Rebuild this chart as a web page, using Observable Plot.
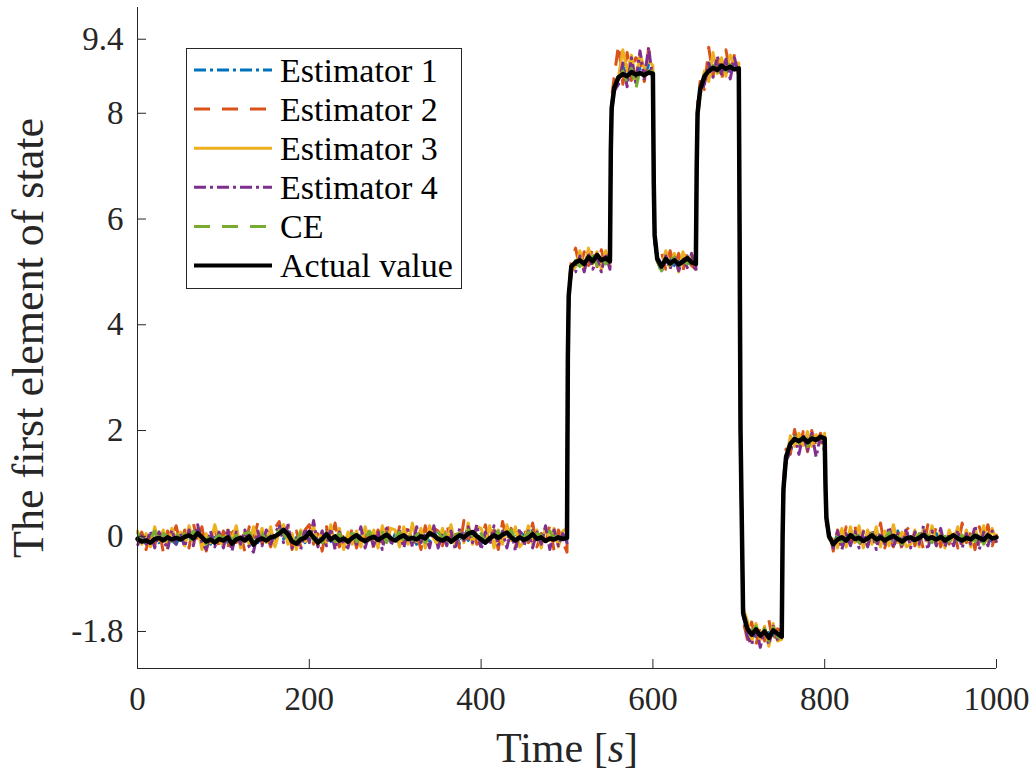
<!DOCTYPE html>
<html><head><meta charset="utf-8">
<script src="https://cdn.jsdelivr.net/npm/d3@7"></script>
<script src="https://cdn.jsdelivr.net/npm/@observablehq/plot@0.6"></script>
<style>
body{margin:0;background:#fff;}
#wrap{position:relative;width:1036px;height:774px;}
#legend{position:absolute;left:186px;top:48px;}
</style></head><body><div id="wrap"></div>
<script>
// regular sampling: one value every 5 s, from 0 s to 1000 s (201 samples per series)
const sampleStep = 5;
// extra samples taken just after each switching instant
const extraTimes = [501, 502, 551, 552, 601, 602, 651, 652, 701, 702, 751, 752, 801, 802];
const xTicks = [0, 200, 400, 600, 800, 1000];
const yTicks = [-1.8, 0, 2, 4, 6, 8, 9.4];
const xLabel = "Time [s]";
const yLabel = "The first element of state";
const seriesNames = ["Estimator 1", "Estimator 2", "Estimator 3", "Estimator 4", "CE", "Actual value"];
const seriesColors = ["#0072BD", "#D95319", "#EDB120", "#7E2F8E", "#77AC30", "#000000"];
const seriesDash = ["12,4,3,4", "16,12", null, "12,4,3,4", "16,12", null];
const seriesWidth = [3, 3, 3, 3, 3, 4.5];

const actual = [
-0.05,-0.10,-0.08,-0.12,-0.05,-0.03,-0.08,-0.02,-0.06,-0.03,
-0.06,-0.01,0.02,-0.04,0.06,-0.02,-0.10,-0.06,-0.12,-0.05,
-0.08,-0.02,-0.14,-0.06,-0.03,-0.08,0.00,-0.16,-0.07,-0.04,
-0.08,-0.02,0.00,0.05,0.12,0.04,-0.10,-0.14,-0.06,-0.03,
0.08,-0.02,-0.12,-0.05,0.04,-0.06,0.00,-0.08,-0.04,-0.10,
-0.03,0.02,-0.05,-0.09,-0.04,-0.01,-0.07,-0.02,0.03,-0.04,
-0.08,-0.02,0.02,-0.05,-0.03,-0.06,0.00,-0.04,0.06,0.02,
-0.05,-0.08,-0.03,-0.10,-0.04,0.02,-0.02,0.05,0.08,0.00,
-0.06,-0.12,-0.04,0.02,-0.03,0.03,0.07,-0.02,-0.08,-0.02,
-0.07,-0.03,0.04,-0.05,-0.02,-0.09,-0.04,-0.06,-0.02,-0.05,
-0.03,5.10,5.18,5.22,5.15,5.28,5.20,5.32,5.22,5.26,
5.20,8.48,8.68,8.74,8.70,8.78,8.73,8.76,8.72,8.77,
8.75,5.25,5.10,5.24,5.16,5.22,5.14,5.20,5.26,5.18,
5.15,8.45,8.70,8.80,8.86,8.82,8.90,8.84,8.88,8.83,
8.85,-1.45,-1.75,-1.86,-1.76,-1.88,-1.80,-1.92,-1.78,-1.84,
-1.90,1.50,1.75,1.84,1.80,1.86,1.78,1.85,1.82,1.88,
1.85,0.00,-0.15,-0.06,-0.02,-0.08,0.02,-0.05,-0.03,-0.09,
-0.04,0.02,-0.06,-0.02,-0.08,-0.03,0.01,-0.05,-0.10,-0.04,
-0.02,-0.07,-0.03,0.03,-0.05,-0.02,-0.06,-0.01,-0.08,-0.03,
0.02,-0.04,-0.08,-0.03,-0.06,0.01,-0.03,-0.07,0.02,-0.04,
-0.02];
const actualExtra = [3.40, 4.55, 7.30, 8.10, 6.70, 5.70, 7.00, 8.00, 5.50, 2.00, 0.00, 0.90, 0.90, 0.35];

const est1 = [
-0.08,0.05,-0.15,0.02,0.08,-0.12,-0.02,0.10,-0.08,-0.15,
0.02,-0.10,0.08,-0.05,0.12,-0.08,-0.02,-0.15,0.05,-0.10,
0.05,-0.12,-0.02,0.08,-0.10,0.02,-0.18,0.05,-0.12,0.08,
-0.02,0.08,-0.12,0.15,-0.05,0.10,-0.15,-0.02,0.05,-0.12,
0.10,-0.05,-0.15,0.02,0.12,-0.10,0.05,-0.15,0.02,-0.08,
-0.10,0.08,-0.02,-0.12,0.05,-0.08,0.10,-0.05,0.08,-0.15,
0.05,-0.12,0.10,-0.08,0.02,-0.15,0.08,0.00,-0.10,0.12,
-0.12,0.05,-0.10,0.02,0.08,-0.15,0.05,-0.08,0.15,0.02,
-0.15,0.05,-0.08,0.12,-0.05,0.02,0.15,-0.10,-0.02,0.08,
0.02,-0.10,0.12,-0.12,0.05,-0.05,-0.10,0.08,-0.12,0.02,
-0.08,5.05,5.15,5.30,5.12,5.32,5.18,5.25,5.20,5.30,
5.18,8.50,8.72,8.90,8.62,8.95,8.70,8.85,8.68,8.92,
8.70,5.28,5.15,5.18,5.25,5.12,5.25,5.15,5.30,5.10,
5.18,8.48,8.62,8.92,8.78,8.95,8.82,8.90,8.80,8.95,
8.80,-1.45,-1.85,-1.75,-1.90,-1.78,-1.88,-1.82,-1.88,-1.80,
-1.92,1.48,1.75,1.80,1.88,1.78,1.90,1.80,1.85,1.82,
1.82,0.05,-0.18,0.05,-0.08,-0.12,0.08,-0.10,0.02,-0.15,
0.02,-0.10,0.05,-0.12,0.08,-0.05,-0.12,0.10,-0.08,0.00,
-0.10,0.05,-0.12,0.08,-0.02,-0.10,0.05,-0.08,-0.15,0.05,
-0.02,0.08,-0.12,0.02,-0.10,0.08,-0.05,-0.12,0.05,-0.10,
0.00];
const est1Extra = [3.45, 4.60, 7.35, 8.15, 6.65, 5.75, 7.05, 8.05, 5.45, 2.05, 0.05, 0.95, 0.85, 0.30];

const est2 = [
-0.12,0.08,-0.25,0.05,-0.18,0.15,-0.30,0.10,-0.05,0.20,
-0.15,0.12,-0.22,0.25,-0.10,0.18,-0.28,0.05,0.15,-0.20,
0.10,-0.25,0.22,-0.12,0.08,-0.30,0.18,-0.05,0.25,-0.15,
0.05,-0.20,0.15,0.28,-0.08,0.20,-0.25,0.10,-0.18,0.12,
0.22,-0.15,0.05,-0.28,0.18,-0.10,0.25,-0.20,0.08,-0.12,
0.15,-0.22,0.10,-0.05,0.20,-0.25,0.12,-0.18,0.28,-0.08,
-0.20,0.18,-0.10,0.22,-0.15,0.05,-0.25,0.20,-0.08,0.15,
0.10,-0.18,0.25,-0.12,0.08,-0.22,0.30,-0.05,0.18,-0.15,
-0.10,0.22,-0.18,0.12,-0.25,0.28,-0.08,0.15,-0.20,0.10,
0.18,-0.12,0.25,-0.20,0.05,-0.15,0.22,-0.28,0.12,-0.10,
-0.30,5.20,5.45,5.05,5.38,5.12,5.48,5.10,5.42,5.08,
5.35,8.70,9.30,8.55,9.15,8.62,9.05,8.98,8.60,9.22,
8.68,5.30,5.38,5.05,5.40,5.10,5.35,5.02,5.42,5.12,
5.05,8.60,8.45,9.25,8.70,9.10,8.60,9.20,8.75,9.12,
8.70,-1.60,-1.95,-1.62,-2.05,-1.70,-1.98,-1.58,-2.02,-1.75,
-1.80,1.65,1.55,2.02,1.65,1.98,1.60,2.00,1.70,1.95,
1.70,0.15,-0.28,0.12,-0.20,0.18,-0.15,0.22,-0.25,0.10,
-0.18,0.20,-0.12,0.25,-0.22,0.08,-0.20,0.15,-0.28,0.12,
0.20,-0.18,0.10,-0.25,0.22,-0.08,0.18,-0.20,0.05,-0.15,
0.15,-0.22,0.25,-0.12,0.08,-0.25,0.18,-0.10,0.22,-0.18,
0.05];
const est2Extra = [3.30, 4.70, 7.20, 8.30, 6.80, 5.55, 6.90, 8.20, 5.60, 1.85, -0.10, 1.05, 1.00, 0.20];

const est3 = [
0.10,-0.15,0.05,-0.20,0.18,-0.08,0.12,-0.22,0.15,-0.05,
0.08,-0.18,0.20,-0.10,0.15,-0.25,0.05,-0.12,0.22,-0.08,
-0.18,0.12,-0.05,0.20,-0.22,0.10,-0.15,0.18,-0.08,0.15,
-0.12,0.18,-0.20,0.08,0.22,-0.15,0.05,-0.25,0.12,-0.10,
-0.05,0.20,-0.18,0.10,-0.12,0.22,-0.20,0.15,-0.25,0.08,
-0.15,0.10,-0.20,0.18,-0.08,0.12,-0.22,0.20,-0.10,0.15,
0.12,-0.20,0.18,-0.15,0.25,-0.10,0.15,-0.22,0.20,-0.05,
-0.18,0.15,-0.08,0.22,-0.20,0.10,-0.12,0.25,-0.15,0.18,
0.15,-0.10,0.20,-0.22,0.12,-0.15,0.22,-0.08,0.18,-0.20,
-0.10,0.20,-0.15,0.12,-0.22,0.18,-0.08,0.15,-0.20,0.10,
0.15,5.00,5.10,5.40,5.05,5.45,5.15,5.38,5.05,5.40,
5.10,8.40,8.70,9.20,8.80,9.10,8.65,9.12,8.85,9.00,
8.90,5.20,5.05,5.40,5.08,5.35,5.00,5.38,5.15,5.30,
5.28,8.35,8.80,8.60,9.15,8.75,9.05,8.70,9.10,8.95,
8.95,-1.35,-1.60,-2.00,-1.65,-1.95,-1.70,-2.08,-1.65,-1.98,
-1.95,1.40,1.90,1.70,1.95,1.72,1.98,1.70,1.92,1.75,
1.95,-0.05,-0.05,-0.22,0.15,-0.20,0.18,-0.12,0.20,-0.22,
0.12,-0.15,0.18,-0.20,0.10,-0.18,0.22,-0.12,0.08,-0.20,
-0.15,0.12,-0.20,0.15,-0.10,0.20,-0.18,0.10,-0.22,0.12,
-0.08,0.18,-0.15,0.12,-0.20,0.15,-0.12,0.20,-0.10,0.15,
-0.10];
const est3Extra = [3.50, 4.45, 7.40, 8.00, 6.60, 5.80, 7.10, 7.90, 5.40, 2.10, 0.10, 0.80, 0.95, 0.40];

const est4 = [
-0.18,0.05,-0.15,0.10,-0.22,0.08,-0.05,-0.25,0.12,-0.15,
0.05,-0.20,0.12,-0.18,0.22,-0.12,-0.25,0.10,-0.20,0.08,
-0.22,0.15,-0.28,0.08,-0.15,0.12,-0.20,-0.30,0.10,-0.18,
0.12,-0.15,0.05,0.22,-0.12,0.25,-0.22,-0.05,-0.25,0.15,
-0.12,0.30,-0.20,0.10,-0.18,0.15,-0.25,0.08,-0.15,-0.22,
0.08,-0.15,0.18,-0.22,0.05,-0.18,0.10,-0.25,0.15,-0.12,
-0.15,0.10,-0.22,0.12,-0.20,0.18,-0.12,0.05,-0.22,0.20,
-0.22,0.05,-0.18,0.10,-0.25,0.15,-0.08,0.18,-0.12,0.22,
-0.25,0.08,-0.15,0.20,-0.18,0.10,-0.22,0.12,-0.28,0.15,
-0.18,0.10,-0.22,0.08,-0.15,0.20,-0.25,0.12,-0.18,0.05,
-0.12,4.98,5.00,5.30,5.00,5.35,5.05,5.25,5.00,5.35,
5.05,8.42,8.55,8.95,8.50,9.05,8.58,9.18,8.65,9.25,
8.60,5.22,5.00,5.30,5.05,5.32,5.02,5.28,5.08,5.35,
5.00,8.38,8.55,8.95,8.68,9.08,8.72,9.02,8.65,9.05,
8.72,-1.50,-1.90,-2.05,-1.72,-2.10,-1.75,-2.05,-1.70,-1.95,
-1.85,1.42,1.60,1.90,1.55,1.92,1.62,1.95,1.50,1.90,
1.60,0.08,-0.22,0.10,-0.25,0.05,-0.18,0.12,-0.22,0.08,
-0.20,0.12,-0.25,0.08,-0.15,0.18,-0.22,0.05,-0.18,0.15,
-0.22,0.08,-0.15,0.20,-0.25,0.10,-0.18,0.15,-0.20,0.05,
-0.18,0.12,-0.22,0.05,-0.15,0.20,-0.25,0.08,-0.18,0.10,
-0.12];
const est4Extra = [3.35, 4.50, 7.25, 8.05, 6.75, 5.65, 6.95, 7.95, 5.55, 1.95, -0.05, 0.85, 0.88, 0.32];

const ce = [
0.08,-0.12,0.02,-0.05,0.10,-0.15,0.05,0.00,-0.10,0.08,
-0.08,0.05,-0.12,0.10,-0.02,0.06,-0.15,0.08,-0.05,0.02,
-0.05,0.10,-0.08,0.02,-0.12,0.05,0.08,-0.10,0.00,0.06,
-0.10,0.05,-0.02,0.12,0.05,-0.08,0.00,-0.12,0.08,-0.05,
0.05,-0.08,0.10,-0.12,0.02,0.08,-0.10,0.05,-0.08,0.00,
0.06,-0.10,0.02,-0.05,0.10,-0.08,0.00,0.08,-0.12,0.05,
-0.02,0.08,-0.10,0.05,-0.08,0.02,0.10,-0.12,0.05,-0.05,
0.08,-0.05,0.10,-0.12,0.02,0.06,-0.08,0.12,0.00,-0.08,
0.05,-0.12,0.08,-0.02,0.10,-0.08,0.02,0.12,-0.10,0.05,
-0.05,0.08,-0.10,0.05,0.02,-0.12,0.10,-0.05,0.06,-0.08,
0.02,5.08,5.22,5.10,5.25,5.18,5.30,5.12,5.28,5.15,
5.25,8.48,8.62,8.80,8.58,8.85,8.45,8.82,8.70,8.80,
8.78,5.20,5.02,5.25,5.12,5.28,5.08,5.22,5.15,5.20,
5.12,8.46,8.70,8.75,8.90,8.78,8.95,8.80,8.92,8.80,
8.82,-1.42,-1.80,-1.82,-1.70,-1.92,-1.75,-1.98,-1.72,-1.90,
-1.98,1.52,1.68,1.88,1.76,1.90,1.70,1.88,1.78,1.92,
1.80,0.02,-0.12,-0.02,-0.10,0.05,-0.05,0.02,-0.12,0.00,
-0.08,0.06,-0.12,0.02,-0.05,0.08,-0.10,0.00,-0.15,0.05,
0.04,-0.10,0.05,-0.08,0.02,-0.12,0.06,-0.05,0.00,-0.10,
0.06,-0.08,0.02,-0.12,0.05,-0.10,0.08,-0.15,0.00,-0.08,
0.02];
const ceExtra = [3.42, 4.52, 7.28, 8.12, 6.72, 5.68, 7.02, 8.02, 5.48, 2.02, 0.02, 0.92, 0.92, 0.33];

const seriesValues = [est1, est2, est3, est4, ce, actual];
const seriesExtra = [est1Extra, est2Extra, est3Extra, est4Extra, ceExtra, actualExtra];

// long-format table, sorted by time within each series
const rows = [];
seriesValues.forEach((vals, si) => {
  const pts = vals.map((v, i) => ({t: i * sampleStep, v}));
  seriesExtra[si].forEach((v, i) => pts.push({t: extraTimes[i], v}));
  pts.sort((a, b) => a.t - b.t);
  pts.forEach(p => rows.push({series: seriesNames[si], t: p.t, v: p.v}));
});

const axisColor = "#262626";
const font = "\"Liberation Serif\", \"DejaVu Serif\", serif";

const lineMarks = seriesNames.map((name, si) => Plot.line(rows.filter(r => r.series === name), {
  x: "t", y: "v",
  stroke: seriesColors[si],
  strokeWidth: seriesWidth[si],
  strokeDasharray: seriesDash[si] || undefined,
  strokeLinecap: seriesDash[si] ? "butt" : "round",
  strokeLinejoin: "round"
}));

const chart = Plot.plot({
  width: 1036, height: 774,
  marginLeft: 137, marginRight: 40, marginTop: 7, marginBottom: 106,
  x: {domain: [0, 1000]},
  y: {domain: [-2.5, 10]},
  style: {fontFamily: font, background: "white", color: axisColor, overflow: "visible"},
  marks: [
    ...lineMarks,
    Plot.ruleX([0], {stroke: axisColor, strokeWidth: 1}),
    Plot.ruleY([-2.5], {stroke: axisColor, strokeWidth: 1}),
    Plot.axisX(xTicks, {anchor: "bottom", tickSize: -9, tickPadding: 27, fontSize: 33, tickFormat: d => String(d), label: null}),
    Plot.axisY(yTicks, {anchor: "left", tickSize: -9, tickPadding: 23, fontSize: 33, tickFormat: d => String(d), label: null}),
    Plot.text([yLabel], {frameAnchor: "left", textAnchor: "middle", lineAnchor: "middle", dx: -109, rotate: -90, fontSize: 44, fill: axisColor}),
    Plot.text([xLabel], {frameAnchor: "bottom", textAnchor: "middle", lineAnchor: "middle", dy: 80, fontSize: 42, fill: axisColor})
  ]
});

// italic s in the x label
chart.querySelectorAll("text").forEach(t => {
  if (t.textContent === xLabel) {
    const parts = ["Time [", "s", "]"];
    t.textContent = "";
    parts.forEach((p, i) => {
      const ts = document.createElementNS("http://www.w3.org/2000/svg", "tspan");
      ts.textContent = p;
      if (i === 1) ts.setAttribute("font-style", "italic");
      t.appendChild(ts);
    });
  }
});

const wrap = document.getElementById("wrap");
wrap.appendChild(chart);

// legend
const lw = 275, lh = 240, rowH = 39.1, row0 = 22;
const leg = d3.create("svg").attr("id", "legend").attr("width", lw + 1).attr("height", lh + 1);
leg.append("rect").attr("x", 0.5).attr("y", 0.5).attr("width", lw).attr("height", lh)
  .attr("fill", "white").attr("stroke", axisColor).attr("stroke-width", 1);
seriesNames.forEach((name, i) => {
  const y = row0 + i * rowH;
  leg.append("line").attr("x1", 8).attr("x2", 86).attr("y1", y).attr("y2", y)
    .attr("stroke", seriesColors[i]).attr("stroke-width", i === 5 ? 4 : 3)
    .attr("stroke-dasharray", seriesDash[i]);
  leg.append("text").attr("x", 94).attr("y", y).attr("dy", "0.35em")
    .attr("font-family", font).attr("font-size", 34).attr("fill", "#000").text(name);
});
wrap.appendChild(leg.node());
</script>
</body></html>
